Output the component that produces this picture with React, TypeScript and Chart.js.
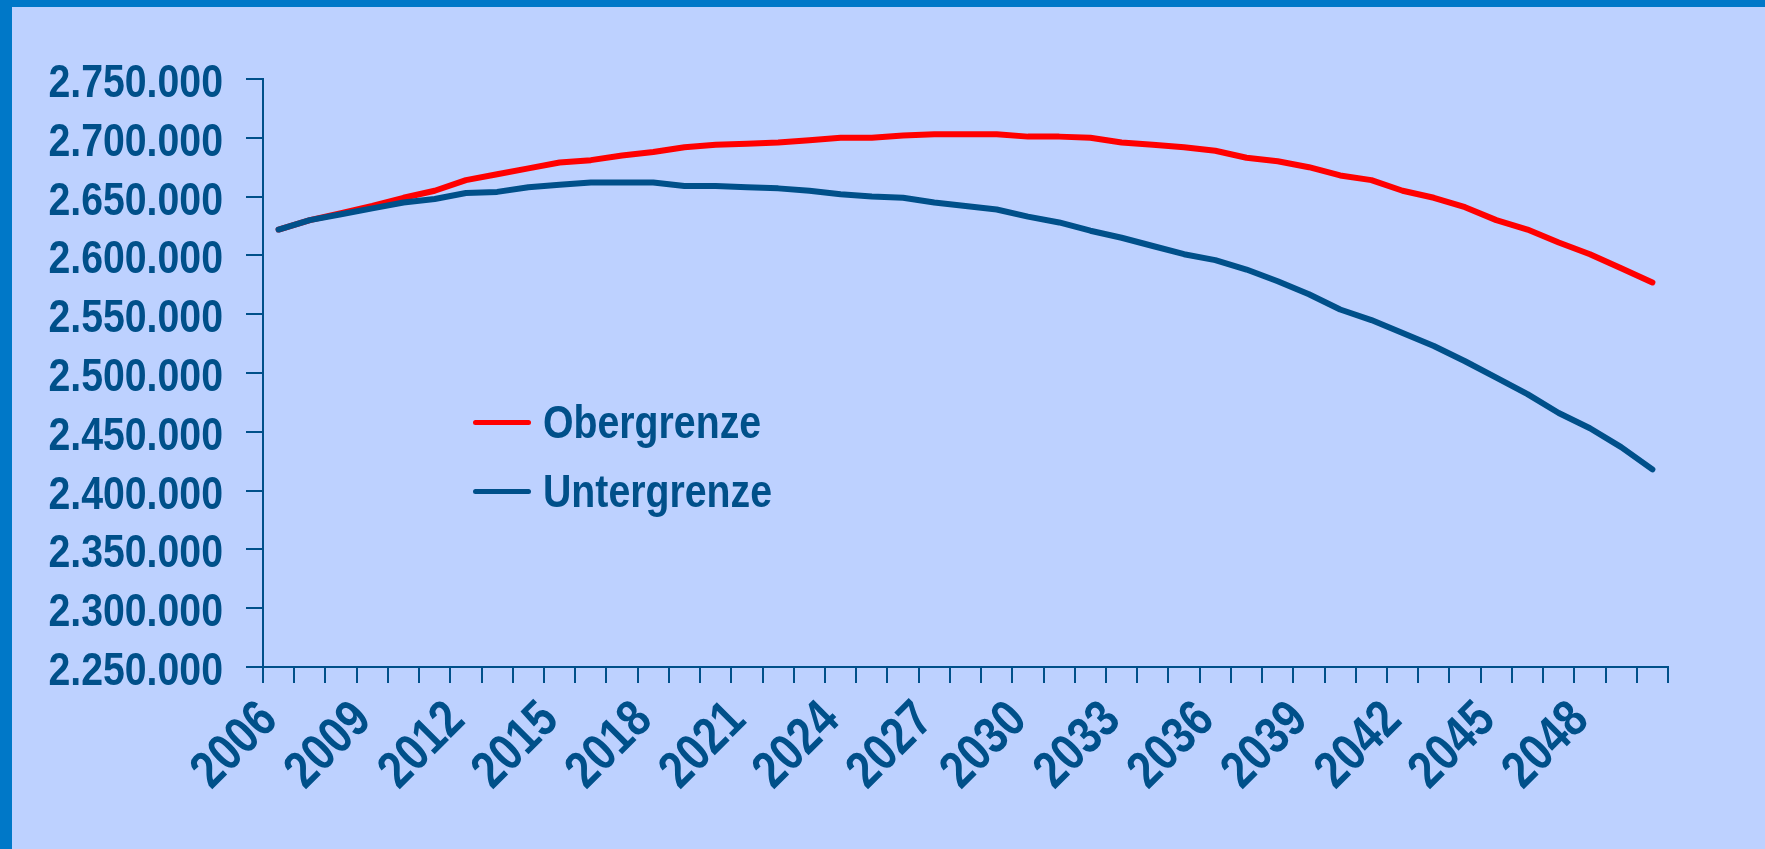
import React, { useEffect, useRef } from "react";
import { Chart, registerables } from "chart.js";

Chart.register(...registerables);

const years: string[] = [];
for (let y = 2006; y <= 2050; y++) years.push(String(y));

const obergrenze = [
  2622000, 2630000, 2636000, 2642000, 2649000, 2655000, 2664000, 2669000, 2674000, 2679000,
  2681000, 2685000, 2688000, 2692000, 2694000, 2695000, 2696000, 2698000, 2700000, 2700000,
  2702000, 2703000, 2703000, 2703000, 2701000, 2701000, 2700000, 2696000, 2694000, 2692000,
  2689000, 2683000, 2680000, 2675000, 2668000, 2664000, 2655000, 2649000, 2641000, 2630000,
  2622000, 2611000, 2601000, 2589000, 2577000,
];

const untergrenze = [
  2622000, 2630000, 2635000, 2640000, 2645000, 2648000, 2653000, 2654000, 2658000, 2660000,
  2662000, 2662000, 2662000, 2659000, 2659000, 2658000, 2657000, 2655000, 2652000, 2650000,
  2649000, 2645000, 2642000, 2639000, 2633000, 2628000, 2621000, 2615000, 2608000, 2601000,
  2596000, 2588000, 2578000, 2567000, 2554000, 2545000, 2534000, 2523000, 2510000, 2496000,
  2482000, 2466000, 2453000, 2437000, 2418000,
];

const seriesNames = ["Obergrenze", "Untergrenze"];
const seriesColors = ["#FF0000", "#00508A"];

const TEXT = "#00508A";
const FONT = "'Liberation Sans', Arial, sans-serif";
const NARROW = 0.835;

function fmt(v: number): string {
  return String(Math.round(v)).replace(/\B(?=(\d{3})+(?!\d))/g, ".");
}

const axisLabelPlugin = {
  id: "axisLabelPlugin",
  afterDraw(chart: any) {
    const ctx = chart.ctx as CanvasRenderingContext2D;
    const ys = chart.scales.y;
    const xs = chart.scales.x;
    ctx.save();
    ctx.fillStyle = TEXT;
    ctx.textBaseline = "alphabetic";
    ctx.textAlign = "right";
    ctx.font = `bold 47px ${FONT}`;
    ys.ticks.forEach((t: any) => {
      const y = ys.getPixelForValue(t.value);
      ctx.save();
      ctx.translate(ys.right - 40, y + 18);
      ctx.scale(NARROW, 1);
      ctx.fillText(fmt(t.value), 0, 0);
      ctx.restore();
    });
    ctx.font = `bold 52px ${FONT}`;
    years.forEach((label, i) => {
      if (i % 3 !== 0) return;
      const x = xs.getPixelForValue(i);
      ctx.save();
      ctx.translate(x + 1, xs.top + 55);
      ctx.rotate(-Math.PI / 4);
      ctx.scale(NARROW, 1);
      ctx.fillText(label, 0, 0);
      ctx.restore();
    });
    ctx.restore();
  },
};

export default function App() {
  const ref = useRef<HTMLCanvasElement | null>(null);

  useEffect(() => {
    if (!ref.current) return;
    const chart = new Chart(ref.current, {
      type: "line",
      data: {
        labels: years,
        datasets: [
          {
            label: seriesNames[0],
            data: obergrenze,
            borderColor: seriesColors[0],
            backgroundColor: seriesColors[0],
            borderWidth: 6,
            pointRadius: 0,
            tension: 0,
            borderCapStyle: "round",
            borderJoinStyle: "round",
            order: 2,
          },
          {
            label: seriesNames[1],
            data: untergrenze,
            borderColor: seriesColors[1],
            backgroundColor: seriesColors[1],
            borderWidth: 6,
            pointRadius: 0,
            tension: 0,
            borderCapStyle: "round",
            borderJoinStyle: "round",
            order: 1,
          },
        ],
      },
      options: {
        responsive: false,
        animation: false,
        devicePixelRatio: 1,
        layout: { padding: { top: 79, right: 97, bottom: 0, left: 0 } },
        plugins: {
          legend: { display: false },
          tooltip: { enabled: false },
        },
        scales: {
          x: {
            type: "category",
            offset: true,
            grid: {
              offset: true,
              drawOnChartArea: false,
              drawTicks: true,
              tickLength: 16,
              color: TEXT,
              lineWidth: 2,
            },
            border: { display: true, color: TEXT, width: 2 },
            ticks: { display: false, autoSkip: false },
            afterFit: (s: any) => {
              s.height = 182;
            },
          },
          y: {
            min: 2250000,
            max: 2750000,
            grid: {
              drawOnChartArea: false,
              drawTicks: true,
              tickLength: 17,
              color: TEXT,
              lineWidth: 2,
            },
            border: { display: true, color: TEXT, width: 2 },
            ticks: { display: false, autoSkip: false, stepSize: 50000 },
            afterFit: (s: any) => {
              s.width = 263;
            },
          },
        },
      },
      plugins: [axisLabelPlugin],
    });
    return () => chart.destroy();
  }, []);

  const legendItem = (i: number, top: number) => (
    <div
      key={i}
      style={{
        position: "absolute",
        left: 473,
        top: top,
        height: 56,
        display: "flex",
        alignItems: "center",
      }}
    >
      <div
        style={{
          width: 58,
          height: 5,
          borderRadius: 3,
          background: seriesColors[i],
          marginRight: 12,
        }}
      />
      <span
        style={{
          fontFamily: FONT,
          fontWeight: "bold",
          fontSize: 47,
          color: TEXT,
          lineHeight: "56px",
          whiteSpace: "nowrap",
          display: "inline-block",
          transform: `scaleX(${NARROW})`,
          transformOrigin: "left center",
        }}
      >
        {seriesNames[i]}
      </span>
    </div>
  );

  return (
    <div
      style={{
        position: "fixed",
        left: 0,
        top: 0,
        width: 1765,
        height: 849,
        background: "#BDD1FF",
        overflow: "hidden",
      }}
    >
      <div style={{ position: "absolute", left: 0, top: 0, width: 1765, height: 7, background: "#0078C8" }} />
      <div style={{ position: "absolute", left: 0, top: 0, width: 12, height: 849, background: "#0078C8" }} />
      <canvas
        ref={ref}
        width={1765}
        height={849}
        style={{ position: "absolute", left: 0, top: 0, width: 1765, height: 849 }}
      />
      {legendItem(0, 394)}
      {legendItem(1, 463)}
    </div>
  );
}
